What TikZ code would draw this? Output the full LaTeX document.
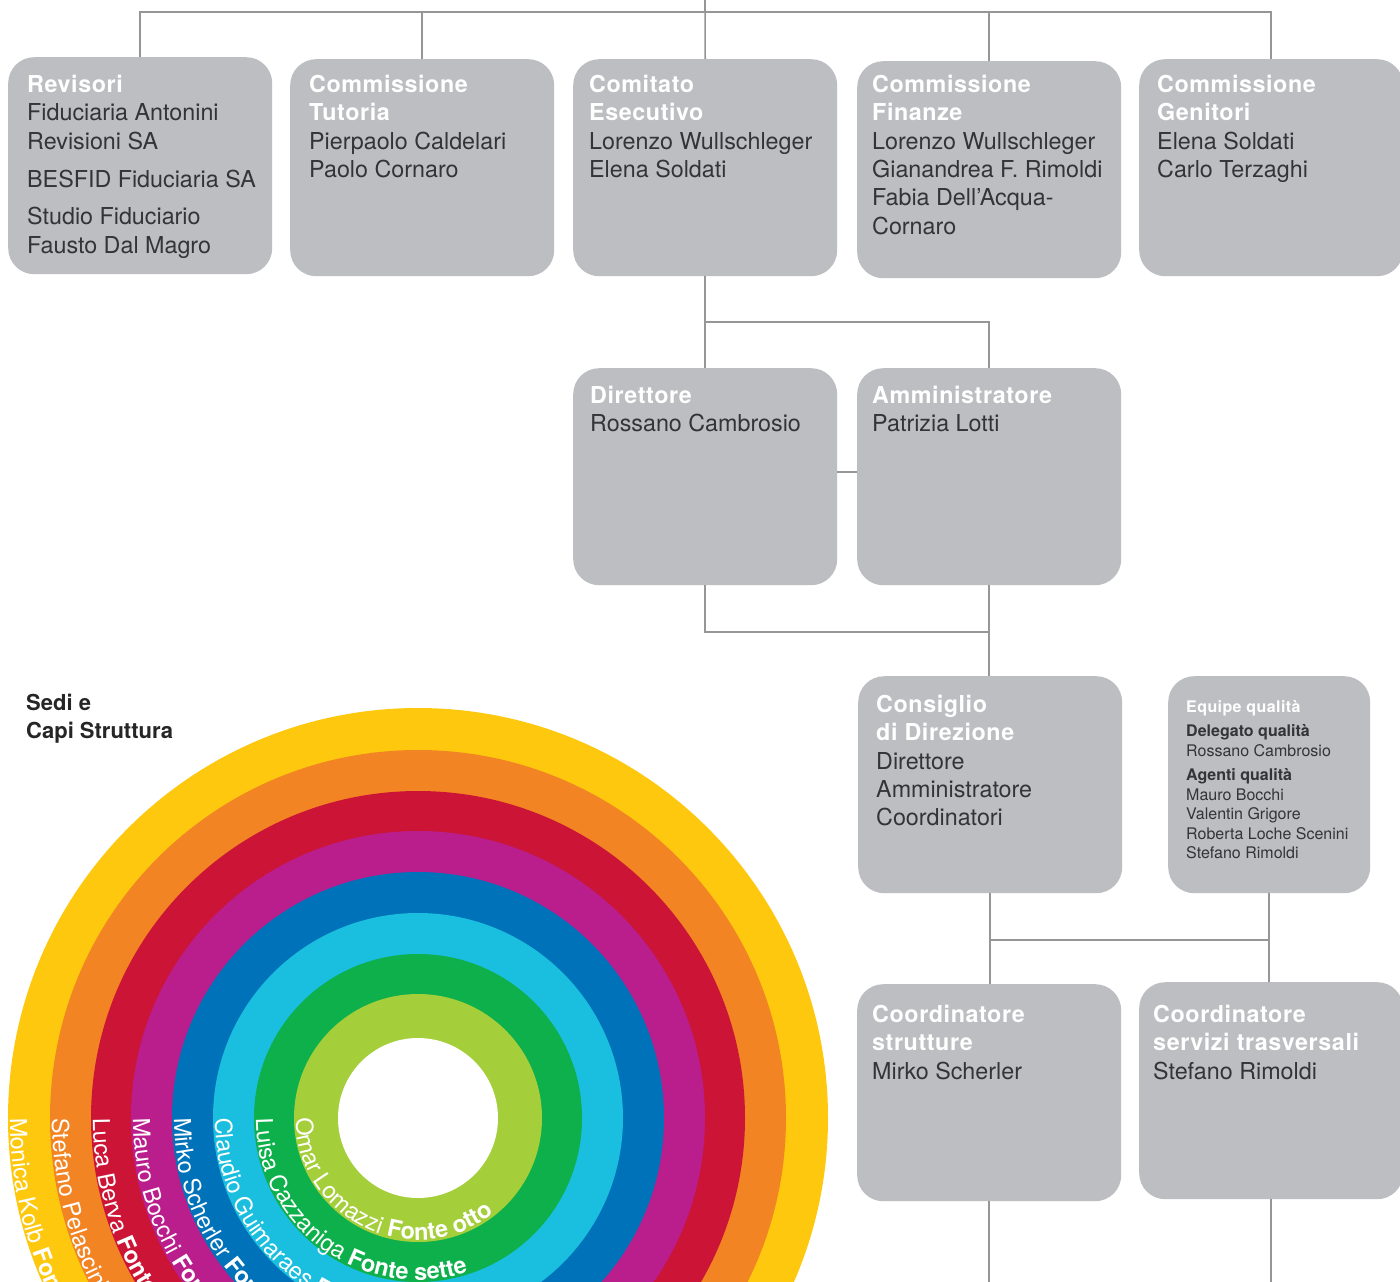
\documentclass[tikz,border=0pt]{standalone}
\usepackage{fontspec}
\setmainfont{TeX Gyre Heros}
\usetikzlibrary{decorations.text}
\definecolor{boxgray}{RGB}{189,190,193}
\definecolor{linegray}{RGB}{150,150,152}
\definecolor{bodytext}{RGB}{52,52,55}
\definecolor{rYellow}{RGB}{254,200,14}
\definecolor{rOrange}{RGB}{242,132,35}
\definecolor{rRed}{RGB}{204,20,54}
\definecolor{rMagenta}{RGB}{186,29,140}
\definecolor{rBlue}{RGB}{0,114,185}
\definecolor{rCyan}{RGB}{26,190,223}
\definecolor{rGreen}{RGB}{13,176,75}
\definecolor{rLime}{RGB}{164,206,58}
\newcommand\boxhead[1]{\textcolor{white}{\bfseries\addfontfeatures{LetterSpace=2.5}#1}}
\newcommand\ringfont{\fontsize{23.5}{24}\selectfont}
\newcommand\ringbold{\fontsize{23.5}{24}\selectfont\bfseries}
\begin{document}
\begin{tikzpicture}[x=1pt,y=1pt,
  orgbox/.style={rectangle, rounded corners=26pt, fill=boxgray, inner sep=0pt,
    minimum width=264pt, minimum height=217pt, anchor=north west},
  boxtext/.style={anchor=north west, inner sep=0pt, align=left, text=bodytext,
    font=\fontsize{23.3}{28.3}\selectfont},
  smalltext/.style={anchor=north west, inner sep=0pt, align=left, text=bodytext,
    font=\fontsize{16}{19.5}\selectfont},
  conn/.style={draw=linegray, line width=1.6pt}]
\useasboundingbox (0,0) rectangle (1400,-1282);
\clip (0,0) rectangle (1400,-1282);
\fill[white] (0,0) rectangle (1400,-1282);

% ---------- rainbow ----------
\coordinate (rc) at (418,-1118);
\fill[rYellow]  (rc) circle[radius=410pt];
\fill[rOrange]  (rc) circle[radius=368pt];
\fill[rRed]     (rc) circle[radius=327pt];
\fill[rMagenta] (rc) circle[radius=287pt];
\fill[rBlue]    (rc) circle[radius=246pt];
\fill[rCyan]    (rc) circle[radius=205pt];
\fill[rGreen]   (rc) circle[radius=164pt];
\fill[rLime]    (rc) circle[radius=124pt];
\fill[white]    (rc) circle[radius=80pt];

\path[decorate, decoration={text along path, text color=white,
  text={|\ringfont|Monica Kolb |\ringbold|Fonte uno}}]
  (10,-1118) arc[start angle=180, end angle=360, radius=408pt];
\path[decorate, decoration={text along path, text color=white,
  text={|\ringfont|Stefano Pelascini |\ringbold|Fonte due}}]
  (52,-1118) arc[start angle=180, end angle=360, radius=366pt];
\path[decorate, decoration={text along path, text color=white,
  text={|\ringfont|Luca Berva |\ringbold|Fonte tre}}]
  (93,-1118) arc[start angle=180, end angle=360, radius=325pt];
\path[decorate, decoration={text along path, text color=white,
  text={|\ringfont|Mauro Bocchi |\ringbold|Fonte quattro}}]
  (133,-1118) arc[start angle=180, end angle=360, radius=285pt];
\path[decorate, decoration={text along path, text color=white,
  text={|\ringfont|Mirko Scherler |\ringbold|Fonte cinque}}]
  (174,-1118) arc[start angle=180, end angle=360, radius=244pt];
\path[decorate, decoration={text along path, text color=white,
  text={|\ringfont|Claudio Guimaraes |\ringbold|Fonte sei}}]
  (215,-1118) arc[start angle=180, end angle=360, radius=203pt];
\path[decorate, decoration={text along path, text color=white,
  text={|\ringfont|Luisa Cazzaniga |\ringbold|Fonte sette}}]
  (256,-1118) arc[start angle=180, end angle=360, radius=162pt];
\path[decorate, decoration={text along path, text color=white,
  text={|\ringfont|Omar Lomazzi |\ringbold|Fonte otto}}]
  (296,-1118) arc[start angle=180, end angle=360, radius=122pt];

\node[anchor=north west, inner sep=0pt, align=left, text=black!85,
  font=\fontsize{22}{27.5}\selectfont\bfseries] (sedi) at (26,-694) {Sedi e\\Capi Struttura};

% ---------- boxes ----------
\node[orgbox] (rev) at (8,-57) {};
\node[orgbox] (tut) at (290,-59) {};
\node[orgbox] (com) at (573,-59) {};
\node[orgbox] (fin) at (857,-61) {};
\node[orgbox] (gen) at (1139,-59) {};
\node[orgbox] (dir) at (573,-368) {};
\node[orgbox] (adm) at (857,-368) {};
\node[orgbox] (cons) at (858,-676) {};
\node[orgbox, minimum width=202pt] (eq) at (1168,-676) {};
\node[orgbox] (cs) at (857,-984) {};
\node[orgbox] (cst) at (1139,-982) {};

% ---------- box texts ----------
\node[boxtext] (revT) at (27,-75) {\boxhead{Revisori}\\Fiduciaria Antonini\\Revisioni SA\\[10pt]BESFID Fiduciaria SA\\[9pt]Studio Fiduciario\\Fausto Dal Magro};
\node[boxtext] (tutT) at (309,-75) {\boxhead{Commissione}\\\boxhead{Tutoria}\\Pierpaolo Caldelari\\Paolo Cornaro};
\node[boxtext] (comT) at (589,-75) {\boxhead{Comitato}\\\boxhead{Esecutivo}\\Lorenzo Wullschleger\\Elena Soldati};
\node[boxtext] (finT) at (872,-75) {\boxhead{Commissione}\\\boxhead{Finanze}\\Lorenzo Wullschleger\\Gianandrea F. Rimoldi\\Fabia Dell’Acqua-\\Cornaro};
\node[boxtext] (genT) at (1157,-75) {\boxhead{Commissione}\\\boxhead{Genitori}\\Elena Soldati\\Carlo Terzaghi};
\node[boxtext] (dirT) at (590,-386) {\boxhead{Direttore}\\Rossano Cambrosio};
\node[boxtext] (admT) at (872,-386) {\boxhead{Amministratore}\\Patrizia Lotti};
\node[boxtext] (consT) at (876,-695) {\boxhead{Consiglio}\\\boxhead{di Direzione}\\Direttore\\Amministratore\\Coordinatori};
\node[smalltext] (eqT) at (1186,-700) {\boxhead{Equipe qualità}\\[5pt]{\bfseries Delegato qualità}\\Rossano Cambrosio\\[5pt]{\bfseries Agenti qualità}\\Mauro Bocchi\\Valentin Grigore\\Roberta Loche Scenini\\Stefano Rimoldi};
\node[boxtext] (csT) at (872,-1005) {\boxhead{Coordinatore}\\\boxhead{strutture}\\Mirko Scherler};
\node[boxtext] (cstT) at (1153,-1005) {\boxhead{Coordinatore}\\\boxhead{servizi trasversali}\\Stefano Rimoldi};

% ---------- connectors ----------
\coordinate (top) at (705,0);
\coordinate (bus) at (705,-12);
\draw[conn] (rev.north) |- (bus) -| (gen.north);
\draw[conn] (tut.north) -- (tut.north |- bus);
\draw[conn] (fin.north) -- (fin.north |- bus);
\draw[conn] (top) -- (com.north);
\coordinate (j1) at (705,-322);
\draw[conn] (com.south) -- (dir.north);
\draw[conn] (j1) -| (adm.north);
\draw[conn] ([yshift=5pt]dir.east) -- ([yshift=5pt]adm.west);
\coordinate (j2) at (705,-632);
\draw[conn] (dir.south) |- (adm.south |- j2);
\draw[conn] (adm.south) -- (adm.south |- cons.north);
\coordinate (j3) at (0,-940);
\draw[conn] (cons.south) -- (cons.south |- cs.north);
\draw[conn] (eq.south) -- (eq.south |- cst.north);
\draw[conn] (cons.south |- j3) -- (eq.south |- j3);
\coordinate (bot) at (0,-1282);
\draw[conn] (cs.south) -- (cs.south |- bot);
\draw[conn] (cst.south) -- (cst.south |- bot);
\end{tikzpicture}
\end{document}
